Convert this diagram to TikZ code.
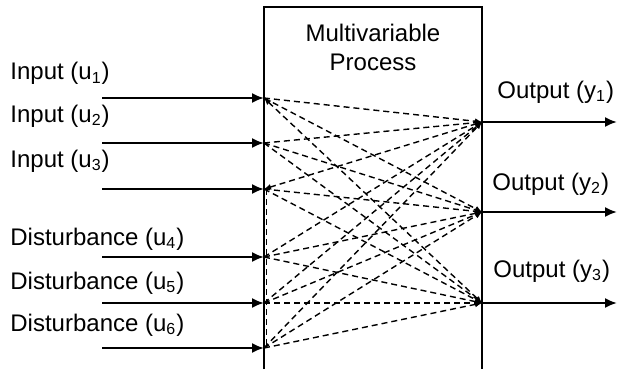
\documentclass[tikz,border=0pt]{standalone}
\usepackage{fontspec}
\setmainfont{Liberation Sans}
\usetikzlibrary{arrows.meta}

\tikzset{
  flecha/.style={line width=1pt, -{Latex[length=6pt,width=5pt]}},
  enlace/.style={line width=0.7pt, dash pattern=on 3pt off 2pt, -{Latex[length=3.5pt,width=3pt]}},
  etiqueta/.style={anchor=base west, inner sep=0pt, font=\fontsize{12}{14.5}\selectfont},
}

\begin{document}
\begin{tikzpicture}[x=0.5pt,y=-0.5pt]
\useasboundingbox (0,0) rectangle (619,369);

% La caja del proceso, abierta por abajo
\draw[line width=1pt] (264,369) -- (264,7) -- (482,7) -- (482,369);
\node[align=center, inner sep=0pt, font=\fontsize{12}{14.5}\selectfont] (titulo) at (373,47) {Multivariable\\Process};

% Entradas: puntos de inicio y puntos sobre la caja
\foreach \i/\y in {1/98,2/143,3/189,4/257,5/303,6/348} {
  \coordinate (ini\i) at (102,\y);
  \coordinate (u\i) at (264,\y);
}

% Salidas: puntos sobre la caja y puntos finales
\foreach \j/\y in {1/122,2/212,3/303} {
  \coordinate (y\j) at (482,\y);
  \coordinate (fin\j) at (617,\y);
}

% Flechas de entrada y de salida
\foreach \i in {1,...,6} \draw[flecha] (ini\i) -- (u\i);
\foreach \j in {1,2,3} \draw[flecha] (y\j) -- (fin\j);

% Cada entrada llega a cada salida
\foreach \i/\j in {1/1,1/2,2/1,2/2,2/3,3/2,3/3,4/1,4/2,4/3,5/1,5/2,5/3,6/1,6/2,6/3}
  \draw[enlace] (u\i) -- (y\j);
\draw[enlace, {Latex[length=3.5pt,width=3pt]}-{Latex[length=3.5pt,width=3pt]}] (u1) -- (y3);
\draw[enlace, {Latex[length=3.5pt,width=3pt]}-{Latex[length=3.5pt,width=3pt]}] (u3) -- (y1);
\draw[line width=0.7pt, dash pattern=on 3pt off 2pt] ([xshift=1.2pt]u3) -- ([xshift=1.2pt]u6);

% Textos de las entradas
\node[etiqueta] (lu1) at (10,80) {Input (u\textsubscript{1})};
\node[etiqueta] (lu2) at (10,122) {Input (u\textsubscript{2})};
\node[etiqueta] (lu3) at (10,167) {Input (u\textsubscript{3})};
\node[etiqueta] (lu4) at (10,245) {Disturbance (u\textsubscript{4})};
\node[etiqueta] (lu5) at (10,289) {Disturbance (u\textsubscript{5})};
\node[etiqueta] (lu6) at (10,331) {Disturbance (u\textsubscript{6})};

% Textos de las salidas
\node[etiqueta] (ly1) at (497,98) {Output (y\textsubscript{1})};
\node[etiqueta] (ly2) at (492,190) {Output (y\textsubscript{2})};
\node[etiqueta] (ly3) at (493,277) {Output (y\textsubscript{3})};
\end{tikzpicture}
\end{document}
